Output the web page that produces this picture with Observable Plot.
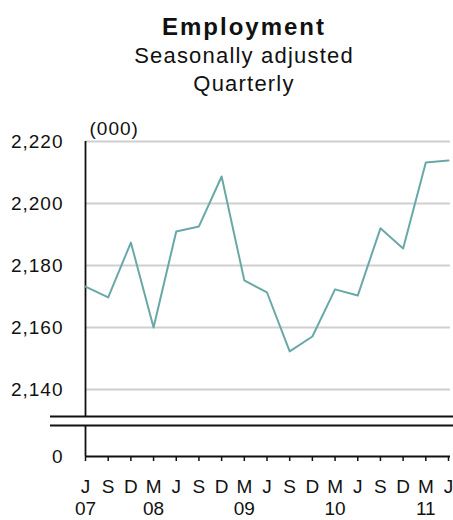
<!DOCTYPE html>
<html><head><meta charset="utf-8">
<script src="https://cdn.jsdelivr.net/npm/d3@7"></script>
<script src="https://cdn.jsdelivr.net/npm/@observablehq/plot@0.6"></script>
<style>
html,body{margin:0;padding:0;overflow:hidden;background:#fff;font-family:"Liberation Sans",Arial,sans-serif;color:#111;}
#head{height:100px;width:453px;padding-left:35px;padding-top:12px;box-sizing:border-box;text-align:center;overflow:hidden;}
.t{font-weight:bold;font-size:24px;line-height:30px;letter-spacing:2px;}
.s{font-size:22px;line-height:28px;letter-spacing:1.2px;}
#chart svg{display:block;}
#chart svg text{letter-spacing:1px;}
#chart svg g[aria-label="x-axis tick label"] text{letter-spacing:0;}
</style></head><body>
<div id="head"><div class="t">Employment</div><div class="s">Seasonally adjusted</div><div class="s">Quarterly</div></div>
<div id="chart"></div>
<script>
const quarters = ["2007-06","2007-09","2007-12","2008-03","2008-06","2008-09","2008-12","2009-03","2009-06","2009-09","2009-12","2010-03","2010-06","2010-09","2010-12","2011-03","2011-06"];
const monthLabels = ["J","S","D","M","J","S","D","M","J","S","D","M","J","S","D","M","J"];
const yearLabels = ["07","","","08","","","","09","","","","10","","","","11",""];
const employment = [2173.2, 2169.7, 2187.4, 2160.0, 2191.0, 2192.6, 2208.7, 2175.2, 2171.3, 2152.3, 2157.1, 2172.3, 2170.3, 2192.0, 2185.5, 2213.2, 2213.9];
const yTicks = [0, 2140, 2160, 2180, 2200, 2220];
const gridTicks = [2140, 2160, 2180, 2200, 2220];
const unitLabel = "(000)";
const breakUpper = 2131.3;
const breakLower = 10;
const yTop = 2220;

const idx = quarters.map((q, i) => i);
const data = quarters.map((q, i) => ({i, q, v: employment[i]}));
const fmt = d3.format(",");
const xLabel = i => yearLabels[i] ? monthLabels[i] + "\n" + yearLabels[i] : monthLabels[i];

const chart = Plot.plot({
  width: 453, height: 420,
  marginLeft: 85, marginRight: 5, marginTop: 41, marginBottom: 64,
  style: {fontFamily: "'Liberation Sans', Arial, sans-serif", fontSize: "19px", color: "#111", background: "#fff"},
  x: {type: "linear", domain: [0, quarters.length - 1]},
  y: {type: "linear", domain: [0, breakLower, breakUpper, yTop], range: [356, 325, 316, 41]},
  marks: [
    Plot.gridY(gridTicks, {stroke: "#cfcfcf", strokeOpacity: 1, strokeWidth: 2, insetRight: -2}),
    Plot.ruleY([breakUpper, breakLower], {stroke: "#111", strokeWidth: 2, insetLeft: -35, insetRight: -5}),
    Plot.ruleY([0], {stroke: "#111", strokeWidth: 1.8, insetRight: -2}),
    Plot.ruleX([0], {y1: breakUpper, y2: yTop, stroke: "#111", strokeWidth: 1.8}),
    Plot.ruleX([0], {y1: 0, y2: breakLower, stroke: "#111", strokeWidth: 1.8}),
    Plot.axisY(yTicks, {tickSize: 0, tickPadding: 22, tickFormat: fmt, fontSize: 19, label: null}),
    Plot.axisX(idx, {tickSize: 5, tickPadding: 16, tickFormat: xLabel, lineHeight: 1.15, fontSize: 19, label: null, strokeWidth: 1.5}),
    Plot.line(data, {x: "i", y: "v", stroke: "#6aa8a8", strokeWidth: 2}),
    Plot.text([unitLabel], {x: [0], y: [yTop], text: d => d, textAnchor: "start", lineAnchor: "bottom", dx: 4, dy: -7, fontSize: 19})
  ]
});
document.getElementById("chart").appendChild(chart);
</script>
</body></html>
